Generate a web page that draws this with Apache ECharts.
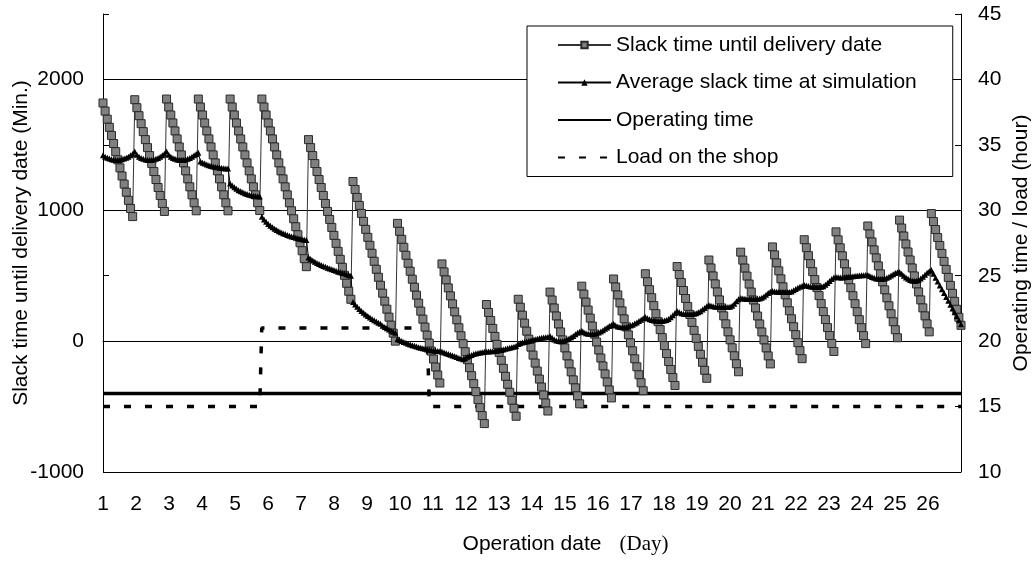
<!DOCTYPE html>
<html><head><meta charset="utf-8">
<script src="https://cdn.jsdelivr.net/npm/echarts@6/dist/echarts.min.js"></script>
<style>html,body{margin:0;padding:0;background:#fff}#chart{width:1032px;height:562px}</style>
</head><body><div id="chart"></div>
<script>
// ---- Data ----
// Simulation steps are evenly spaced from day 1 to day 27; one array per order cycle.
const DAY_FIRST = 1;
const DAY_LAST = 27;
const dayLabels = [1,2,3,4,5,6,7,8,9,10,11,12,13,14,15,16,17,18,19,20,21,22,23,24,25,26];

// Slack time until delivery date (Min.), per cycle
const slackPeriods = [
  [1820,1758,1696,1634,1572,1510,1448,1386,1324,1262,1200,1138,1076,1014,952],
  [1845,1784,1723,1662,1601,1540,1479,1418,1357,1296,1235,1174,1113,1052,991],
  [1850,1789,1728,1667,1606,1545,1484,1423,1362,1301,1240,1179,1118,1057,996],
  [1850,1789,1728,1667,1606,1545,1484,1423,1362,1301,1240,1179,1118,1057,996],
  [1850,1789,1728,1667,1606,1545,1484,1423,1362,1301,1240,1179,1118,1057,998],
  [1850,1789,1728,1667,1606,1545,1484,1423,1362,1301,1240,1179,1118,1057,996,935,874,813,752,691,630,569],
  [1540,1479,1418,1357,1296,1235,1174,1113,1052,991,930,869,808,747,686,625,564,503,442,381,320],
  [1220,1159,1098,1037,976,915,854,793,732,671,610,549,488,427,366,305,244,183,122,61,0],
  [900,839,778,717,656,595,534,473,412,351,290,229,168,107,46,-15,-76,-137,-198,-259,-320],
  [590,529,468,407,346,285,224,163,102,41,-20,-81,-142,-203,-264,-325,-386,-447,-508,-569,-630],
  [280,219,158,97,36,-25,-86,-147,-208,-269,-330,-391,-452,-513,-574],
  [320,259,198,137,76,15,-46,-107,-168,-229,-290,-351,-412,-473,-534],
  [375,314,253,192,131,70,9,-52,-113,-174,-235,-296,-357,-418,-479],
  [420,359,298,237,176,115,54,-7,-68,-129,-190,-251,-312,-373,-434],
  [475,414,353,292,231,170,109,48,-13,-74,-135,-196,-257,-318,-379],
  [515,454,393,332,271,210,149,88,27,-34,-95,-156,-217,-278,-339],
  [570,509,448,387,326,265,204,143,82,21,-40,-101,-162,-223,-284],
  [620,559,498,437,376,315,254,193,132,71,10,-51,-112,-173,-234],
  [680,619,558,497,436,375,314,253,192,131,70,9,-52,-113,-174],
  [720,659,598,537,476,415,354,293,232,171,110,49,-12,-73,-134],
  [775,714,653,592,531,470,409,348,287,226,165,104,43,-18,-79],
  [835,774,713,652,591,530,469,408,347,286,225,164,103,42,-19],
  [880,819,758,697,636,575,514,453,392,331,270,209,148,87,26],
  [925,864,803,742,681,620,559,498,437,376,315,254,193,132,71],
  [975,914,853,792,731,670,609,548,487,426,365,304,243,182,121]
];

// Average slack time at simulation (Min.), per cycle
const avgPeriods = [
  [1420,1410,1402,1395,1390,1386,1384,1384,1386,1390,1395,1402,1410,1420,1432],
  [1450,1425,1410,1400,1393,1388,1385,1384,1385,1388,1393,1400,1410,1420,1432],
  [1450,1425,1410,1400,1393,1388,1385,1384,1385,1388,1393,1400,1410,1420,1430],
  [1440,1372,1364,1357,1350,1344,1339,1335,1331,1328,1325,1323,1321,1320,1320],
  [1205,1190,1176,1164,1154,1145,1137,1130,1124,1119,1115,1112,1109,1107,1105],
  [950,930,912,896,882,870,859,849,840,832,825,818,812,806,800,795,790,786,782,778,775,772],
  [640,628,617,607,598,590,582,575,568,561,555,549,543,537,531,526,521,516,511,506,500],
  [300,280,262,246,231,217,204,192,181,170,160,150,141,132,118,108,98,89,80,72,65],
  [15,8,1,-6,-13,-19,-25,-31,-36,-41,-46,-51,-55,-59,-63,-66,-69,-72,-74,-76,-77],
  [-80,-86,-92,-98,-104,-110,-116,-122,-128,-133,-138,-130,-120,-112,-105,-99,-94,-90,-87,-84,-82],
  [-80,-79,-78,-77,-75,-73,-70,-67,-63,-59,-55,-51,-47,-43,-38],
  [-22,-16,-10,-6,-2,2,6,10,14,18,22,25,28,30,31],
  [40,25,12,4,1,0,2,6,12,20,30,40,52,64,72],
  [80,68,60,56,54,54,56,60,66,74,84,94,105,115,124],
  [132,120,112,108,107,107,109,113,119,126,134,143,153,163,175],
  [184,175,168,162,158,155,153,153,154,157,162,170,182,198,215],
  [230,220,213,209,207,207,207,208,210,214,220,229,241,254,266],
  [276,270,266,263,262,261,261,260,260,261,263,270,285,305,320],
  [330,326,324,323,322,322,322,322,323,326,332,342,355,368,378],
  [383,380,378,377,376,375,375,375,376,380,388,398,408,416,422],
  [429,425,421,418,416,415,414,414,415,420,430,445,460,475,486],
  [490,488,487,487,488,490,492,494,496,498,500,502,503,504,505],
  [506,498,490,484,479,476,475,476,479,484,492,502,512,520,526],
  [529,515,500,487,476,468,462,460,462,468,478,492,508,522,535],
  [544,515,485,456,426,397,367,338,308,279,249,220,190,160,130]
];

// Operating time (hour) and load on the shop (hour, step changes)
const operatingDays = [1, 27];
const operatingHours = [16, 16];
const loadDays = [1, 5.75, 5.81, 10.82, 10.89, 27];
const loadHours = [15, 15, 21, 21, 15, 15];

const seriesNames = ['Slack time until delivery date','Average slack time at simulation','Operating time','Load on the shop'];

// ---- Build ----
const slack = slackPeriods.flat();
const avg = avgPeriods.flat();
const nSteps = slack.length;
const stepX = i => DAY_FIRST + i * (DAY_LAST - DAY_FIRST) / (nSteps - 1);
const slackData = slack.map((v, i) => [stepX(i), v]);
const avgData = avg.map((v, i) => [stepX(i), v]);
const opData = operatingDays.map((d, i) => [d, operatingHours[i]]);
const loadData = loadDays.map((d, i) => [d, loadHours[i]]);

const FONT = '"Liberation Sans", Arial, sans-serif';
const SERIF = '"Liberation Serif", "Times New Roman", serif';
const NO_MARK = {color: 'rgba(0,0,0,0)', borderWidth: 0, opacity: 0};

const chart = echarts.init(document.getElementById('chart'), null, {renderer: 'canvas'});
chart.setOption({
  animation: false,
  backgroundColor: '#fff',
  textStyle: {fontFamily: FONT, color: '#000'},
  grid: {left: 103, right: 71, top: 14, bottom: 90, outerBoundsMode: 'none'},
  legend: {
    orient: 'vertical', left: 527, top: 26,
    padding: [7, 36, 7, 30],
    itemWidth: 53, itemHeight: 8, itemGap: 13.5,
    borderColor: '#000', borderWidth: 1, borderRadius: 0, backgroundColor: '#fff',
    textStyle: {fontSize: 21, fontFamily: FONT, color: '#000', lineHeight: 24},
    data: [
      {name: seriesNames[0]},
      {name: seriesNames[1]},
      {name: seriesNames[2], itemStyle: NO_MARK},
      {name: seriesNames[3], itemStyle: NO_MARK}
    ]
  },
  xAxis: {
    type: 'value', min: DAY_FIRST, max: DAY_LAST, interval: 1,
    axisLine: {lineStyle: {color: '#000', width: 1}},
    axisTick: {show: false},
    splitLine: {show: false},
    axisLabel: {
      margin: 22, fontSize: 21, color: '#000', fontFamily: FONT,
      formatter: v => dayLabels.includes(v) ? String(v) : ''
    },
    name: '{s| }{a|Operation date}{g| }{b|(Day)}',
    nameLocation: 'middle', nameGap: 62, nameMoveOverlap: false,
    nameTextStyle: {
      rich: {
        s: {width: 67, fontSize: 21},
        a: {fontSize: 21, fontFamily: FONT, color: '#000'},
        g: {width: 18, fontSize: 21},
        b: {fontSize: 21, fontFamily: SERIF, color: '#000'}
      }
    }
  },
  yAxis: [
    {
      type: 'value', min: -1000, max: 2500, interval: 500, position: 'left',
      axisLine: {show: true, lineStyle: {color: '#000', width: 1}},
      axisTick: {show: true, inside: true, length: 6, lineStyle: {color: '#000'}},
      axisLabel: {margin: 19, fontSize: 21, color: '#000', fontFamily: FONT,
        formatter: v => (v % 1000 === 0 ? String(v) : '')},
      splitLine: {show: true, lineStyle: {width: 1,
        color: ['#000', 'rgba(0,0,0,0)', '#000', 'rgba(0,0,0,0)', '#000', 'rgba(0,0,0,0)', '#000', 'rgba(0,0,0,0)']}},
      name: 'Slack time until delivery date (Min.)',
      nameLocation: 'middle', nameGap: 71, nameMoveOverlap: false,
      nameTextStyle: {fontSize: 21, fontFamily: FONT, color: '#000'}
    },
    {
      type: 'value', min: 10, max: 45, interval: 5, position: 'right',
      axisLine: {show: true, lineStyle: {color: '#000', width: 1}},
      axisTick: {show: true, inside: true, length: 6, lineStyle: {color: '#000'}},
      axisLabel: {margin: 17, fontSize: 21, color: '#000', fontFamily: FONT},
      splitLine: {show: false},
      name: 'Operating time / load (hour)',
      nameLocation: 'middle', nameGap: 50, nameRotate: 90, nameMoveOverlap: false,
      nameTextStyle: {fontSize: 21, fontFamily: FONT, color: '#000'}
    }
  ],
  series: [
    {
      name: seriesNames[0], type: 'line', yAxisIndex: 0, data: slackData,
      symbol: 'rect', symbolSize: 8, showAllSymbol: true,
      itemStyle: {color: '#808080', borderColor: '#2a2a2a', borderWidth: 1},
      lineStyle: {color: '#333', width: 1},
      emphasis: {disabled: true}
    },
    {
      name: seriesNames[1], type: 'line', yAxisIndex: 0, data: avgData,
      symbol: 'triangle', symbolSize: 6, showAllSymbol: true,
      itemStyle: {color: '#000'},
      lineStyle: {color: '#000', width: 1},
      emphasis: {disabled: true}
    },
    {
      name: seriesNames[2], type: 'line', yAxisIndex: 1, data: opData,
      symbol: 'none', lineStyle: {color: '#000', width: 3.5},
      itemStyle: {color: '#000'},
      emphasis: {disabled: true}
    },
    {
      name: seriesNames[3], type: 'line', yAxisIndex: 1, data: loadData,
      symbol: 'none', lineStyle: {color: '#000', width: 3.5, type: [7, 14]},
      itemStyle: {color: '#000'},
      emphasis: {disabled: true}
    }
  ]
});
</script>
</body></html>
